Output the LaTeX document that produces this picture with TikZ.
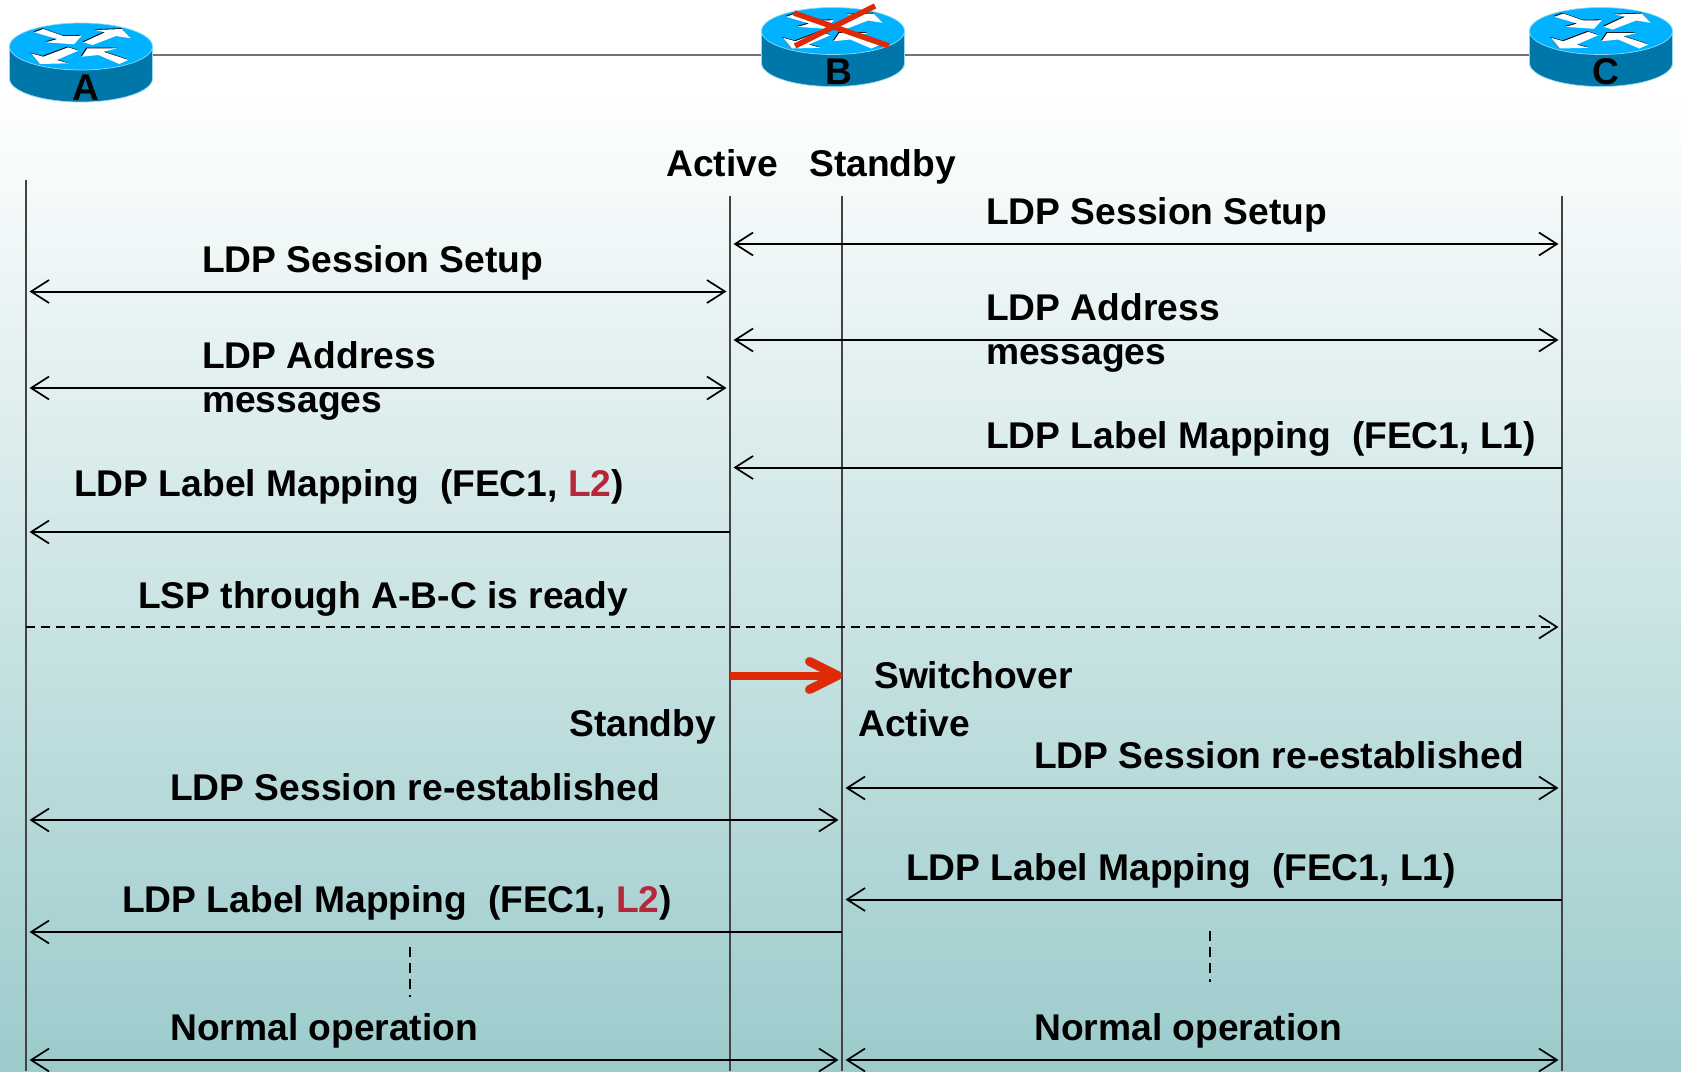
\documentclass[tikz,border=0pt]{standalone}
\usepackage{fontspec}
\usepackage{xcolor}
\setmainfont{Liberation Sans}
\usetikzlibrary{arrows.meta,positioning,calc}
\definecolor{router-top}{HTML}{00B2FF}
\definecolor{router-side}{HTML}{0077A8}
\definecolor{router-rim}{HTML}{8FD8F5}
\definecolor{cross-red}{HTML}{DF2A08}
\definecolor{label-red}{HTML}{B5283A}
\definecolor{sky-bottom}{HTML}{9CCBCC}
\definecolor{wire}{HTML}{444444}

\begin{document}
\begin{tikzpicture}[x=1pt, y=-1pt,
    router/.style={shape=rectangle, minimum width=143pt, minimum height=1pt, inner sep=0pt},
    routername/.style={font=\bfseries\fontsize{37.2}{37}\selectfont, anchor=base, inner sep=0pt},
    msgtext/.style={font=\bfseries\fontsize{37.2}{44}\selectfont, anchor=base west, inner sep=0pt, align=left},
    lifeline/.style={draw=wire, line width=1.5pt},
    link/.style={draw=black!55, line width=1.5pt},
    post/.style={<->, >={Straight Barb[length=18pt, width=23pt, line width=1.7pt]}, line width=2pt, shorten <=3.5pt, shorten >=3.5pt},
    postleft/.style={<-, >={Straight Barb[length=18pt, width=23pt, line width=1.7pt]}, line width=2pt, shorten <=3.5pt},
    postdash/.style={->, >={Straight Barb[length=18pt, width=23pt, line width=1.7pt]}, line width=1.5pt, dash pattern=on 9pt off 6pt, shorten >=3.5pt},
    pause/.style={line width=1.2pt, dash pattern=on 10pt off 6pt},
    switch/.style={-{Straight Barb[length=28pt, width=28pt, line width=9pt, round]}, draw=cross-red, line width=8pt},
    crossline/.style={draw=cross-red, line width=5.5pt},
    routerpic/.pic={
      \path[fill=router-side, draw=router-rim, line width=0.7pt] (-71.5,0) -- (-71.5,32)
        arc[start angle=180, end angle=360, x radius=71.5, y radius=-23.5] -- (71.5,0) -- cycle;
      \path[fill=router-top, draw=router-rim, line width=0.7pt] (0,0) ellipse[x radius=71.5, y radius=23.5];
      \foreach \sx/\sy/\vfill in {-0.8/-0.8/black, 0/0/white} {
        \fill[\vfill, shift={(\sx,\sy)}] (-46.7,-14.2) -- (-37.7,-17.5) -- (-17.7,-10.5) -- (.7,-10.8) -- (-7,-2.2) -- (-35.3,-4.2) -- (-23.7,-7.5) -- cycle;
        \fill[\vfill, shift={(\sx,\sy)}] (2.3,-4.2) -- (24,-14.2) -- (14,-16.5) -- (40.7,-17.5) -- (49.7,-8.2) -- (35,-10.5) -- (11.7,-1.5) -- cycle;
        \fill[\vfill, shift={(\sx,\sy)}] (-2.7,4.2) -- (-24.3,13.5) -- (-12.7,16.8) -- (-41,17.5) -- (-50,6.8) -- (-37.7,10.2) -- (-12.7,.8) -- cycle;
        \fill[\vfill, shift={(\sx,\sy)}] (.7,10.2) -- (6.3,1.8) -- (36.3,1.8) -- (22.3,5.2) -- (47.3,13.5) -- (38.3,17.5) -- (17.3,8.5) -- cycle;
      }
    }]

  \useasboundingbox (0,0) rectangle (1681,1071);
  \fill[white] (0,0) rectangle (1681,100);
  \shade[top color=white, bottom color=sky-bottom] (0,90) rectangle (1681,1071);

  % routers
  \node [router] (rtrA) at (81,55) {};
  \node [router] (rtrB) at (833,55) {};
  \node [router] (rtrC) at (1601,55) {};
  \draw[link] (rtrA) -- (rtrB);
  \draw[link] (rtrB) -- (rtrC);
  \pic at (81,46.5) {routerpic};
  \pic at (833,31) {routerpic};
  \pic at (1601,31) {routerpic};
  \node [routername] (nameA) at (86,100) {A};
  \node [routername] (nameB) at (839,84) {B};
  \node [routername] (nameC) at (1606,84) {C};
  \coordinate (crossNW) at (794,13);
  \coordinate (crossSE) at (889,46);
  \coordinate (crossSW) at (795,46);
  \coordinate (crossNE) at (875,6);
  \draw[crossline] (crossNW) -- (crossSE);
  \draw[crossline] (crossSW) -- (crossNE);

  % lifelines
  \coordinate (lineA) at (26,180);
  \coordinate (lineAct) at (730,196);
  \coordinate (lineStby) at (842,196);
  \coordinate (lineC) at (1562,196);
  \coordinate (floor) at (0,1071);
  \draw[lifeline] (lineA) -- (lineA |- floor);
  \draw[lifeline] (lineAct) -- (lineAct |- floor);
  \draw[lifeline] (lineStby) -- (lineStby |- floor);
  \draw[lifeline] (lineC) -- (lineC |- floor);

  % rows
  \coordinate (rowSetupC) at (0,244);
  \coordinate (rowSetupA) at (0,291.5);
  \coordinate (rowAddrC) at (0,340);
  \coordinate (rowAddrA) at (0,388);
  \coordinate (rowMapC) at (0,467.5);
  \coordinate (rowMapA) at (0,532);
  \coordinate (rowLsp) at (0,627);
  \coordinate (rowSwitch) at (0,675.5);
  \coordinate (rowReC) at (0,788);
  \coordinate (rowReA) at (0,820);
  \coordinate (rowMapTwoC) at (0,899.5);
  \coordinate (rowMapTwoA) at (0,932);
  \coordinate (rowNormal) at (0,1060);

  \node [msgtext] (active) at (666,176) {Active};
  \node [msgtext] (standby) at (809,176) {Standby};
  \node [msgtext] (setupC) at (986,224) {LDP Session Setup};
  \node [msgtext] (setupA) at (202,272) {LDP Session Setup};
  \node [msgtext] (addrC) at (986,364.5) {LDP Address\\messages};
  \node [msgtext] (addrA) at (202,412.5) {LDP Address\\messages};
  \node [msgtext] (mapC) at (986,448) {LDP Label Mapping~ (FEC1, L1)};
  \node [msgtext] (mapA) at (74,496) {LDP Label Mapping~ (FEC1, \textcolor{label-red}{L2})};
  \node [msgtext] (lsp) at (138,608) {LSP through A-B-C is ready};
  \node [msgtext] (switchover) at (874,688) {Switchover};
  \node [msgtext] (standbyTwo) at (569,736) {Standby};
  \node [msgtext] (activeTwo) at (858,736) {Active};
  \node [msgtext] (reC) at (1034,768) {LDP Session re-established};
  \node [msgtext] (reA) at (170,800) {LDP Session re-established};
  \node [msgtext] (mapTwoC) at (906,880) {LDP Label Mapping~ (FEC1, L1)};
  \node [msgtext] (mapTwoA) at (122,912) {LDP Label Mapping~ (FEC1, \textcolor{label-red}{L2})};
  \node [msgtext] (normalA) at (170,1040) {Normal operation};
  \node [msgtext] (normalC) at (1034,1040) {Normal operation};

  \draw[post] (lineAct |- rowSetupC) -- (lineC |- rowSetupC);
  \draw[post] (lineA |- rowSetupA) -- (lineAct |- rowSetupA);
  \draw[post] (lineAct |- rowAddrC) -- (lineC |- rowAddrC);
  \draw[post] (lineA |- rowAddrA) -- (lineAct |- rowAddrA);
  \draw[postleft] (lineAct |- rowMapC) -- (lineC |- rowMapC);
  \draw[postleft] (lineA |- rowMapA) -- (lineAct |- rowMapA);
  \draw[postdash] (lineA |- rowLsp) -- (lineC |- rowLsp);
  \draw[switch] (lineAct |- rowSwitch) -- (lineStby |- rowSwitch);
  \draw[post] (lineStby |- rowReC) -- (lineC |- rowReC);
  \draw[post] (lineA |- rowReA) -- (lineStby |- rowReA);
  \draw[postleft] (lineStby |- rowMapTwoC) -- (lineC |- rowMapTwoC);
  \draw[postleft] (lineA |- rowMapTwoA) -- (lineStby |- rowMapTwoA);
  \draw[post] (lineA |- rowNormal) -- (lineStby |- rowNormal);
  \draw[post] (lineStby |- rowNormal) -- (lineC |- rowNormal);

  % pauses
  \coordinate (pauseAtop) at (410,947);
  \coordinate (pauseAend) at (410,997);
  \coordinate (pauseCtop) at (1210,931);
  \coordinate (pauseCend) at (1210,982);
  \draw[pause] (pauseAtop) -- (pauseAend);
  \draw[pause] (pauseCtop) -- (pauseCend);
\end{tikzpicture}
\end{document}
